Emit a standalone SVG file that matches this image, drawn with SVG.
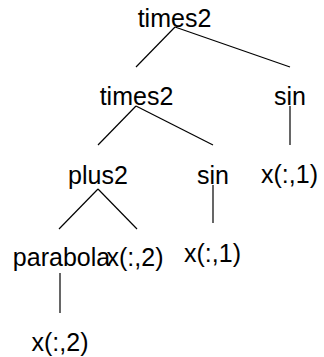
<svg xmlns="http://www.w3.org/2000/svg" width="324" height="357" viewBox="0 0 324 357">
<style>
text{font-family:"Liberation Sans",Arial,sans-serif;font-size:25px;fill:#000;text-anchor:middle}
.e line{stroke:#000;stroke-width:1.2;fill:none}
</style>
<rect width="324" height="357" fill="#fff"/>
<g class="e" id="connectors">
<line x1="175" y1="27" x2="136" y2="67"/>
<line x1="175" y1="27" x2="290" y2="67"/>
<line x1="136" y1="106" x2="98" y2="145"/>
<line x1="136" y1="106" x2="213" y2="145"/>
<line x1="290" y1="106" x2="290" y2="145"/>
<line x1="98" y1="189" x2="59" y2="229"/>
<line x1="98" y1="189" x2="137" y2="229"/>
<line x1="213" y1="185" x2="213" y2="223"/>
<line x1="60" y1="273" x2="60" y2="313"/>
</g>
<g id="n1"><text x="174.5" y="27">times2</text></g>
<g id="n2"><text x="136.5" y="105">times2</text></g>
<g id="n3"><text x="290" y="105">sin</text></g>
<g id="n4"><text x="98" y="184">plus2</text></g>
<g id="n5"><text x="213" y="184">sin</text></g>
<g id="n6"><text x="289.5" y="183">x(:,1)</text></g>
<g id="n7"><text x="61.5" y="266">parabola</text></g>
<g id="n8"><text x="135" y="266">x(:,2)</text></g>
<g id="n9"><text x="212.5" y="262">x(:,1)</text></g>
<g id="n10"><text x="60" y="351">x(:,2)</text></g>
</svg>
